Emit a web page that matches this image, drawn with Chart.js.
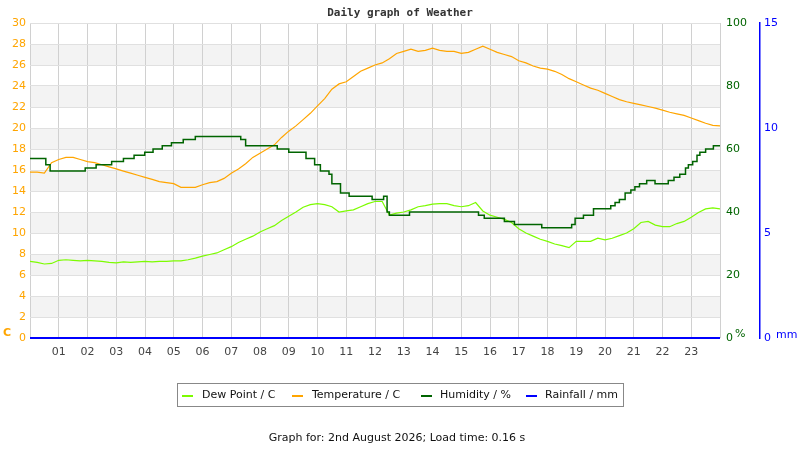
<!DOCTYPE html>
<html>
<head>
<meta charset="utf-8">
<script src="https://cdn.jsdelivr.net/npm/chart.js@4/dist/chart.umd.min.js"></script>
<style>
  html, body { margin: 0; padding: 0; background: #fff; }
  #wrap { position: relative; width: 800px; height: 450px; font-family: "DejaVu Sans", sans-serif; }
  #c { position: absolute; left: 0; top: 0; }
  .abs { position: absolute; white-space: nowrap; }
  #title { left: 0; width: 800px; top: 6px; text-align: center; font: bold 11px "DejaVu Sans Mono", monospace; color: #333; }
  #legend { left: 177px; top: 383px; width: 445px; height: 22px; border: 1px solid #888; }
  .li { position: absolute; top: 4px; font-size: 11px; color: #111; }
  .mk { position: absolute; top: 11px; width: 11px; height: 2px; }
  #footer { left: 0; width: 794px; top: 431px; text-align: center; font-size: 11px; color: #111; }
  .unit { font-size: 11px; }
</style>
</head>
<body>
<div id="wrap">
  <canvas id="c" width="800" height="450"></canvas>
  <div id="title" class="abs">Daily graph of Weather</div>
  <div class="abs unit" style="left:3px;top:326px;color:#FFA500;font-weight:bold;">C</div>
  <div class="abs unit" style="left:735px;top:327px;color:#006400;">%</div>
  <div class="abs unit" style="left:776px;top:328px;color:#0000FF;">mm</div>
  <div id="legend" class="abs">
    <div class="mk" style="left:4px;background:#7CFC00"></div><div class="li" style="left:24px">Dew Point / C</div>
    <div class="mk" style="left:114px;background:#FFA500"></div><div class="li" style="left:134px">Temperature / C</div>
    <div class="mk" style="left:243px;background:#006400"></div><div class="li" style="left:262px">Humidity / %</div>
    <div class="mk" style="left:348px;background:#0000FF"></div><div class="li" style="left:367px">Rainfall / mm</div>
  </div>
  <div id="footer" class="abs">Graph for: 2nd August 2026; Load time: 0.16 s</div>
</div>
<script>
// Hours of the day for 15-minute samples (0 .. 24)
const sampleHours = [0,0.25,0.5,0.75,1,1.25,1.5,1.75,2,2.25,2.5,2.75,3,3.25,3.5,3.75,4,4.25,4.5,4.75,5,5.25,5.5,5.75,6,6.25,6.5,6.75,7,7.25,7.5,7.75,8,8.25,8.5,8.75,9,9.25,9.5,9.75,10,10.25,10.5,10.75,11,11.25,11.5,11.75,12,12.25,12.5,12.75,13,13.25,13.5,13.75,14,14.25,14.5,14.75,15,15.25,15.5,15.75,16,16.25,16.5,16.75,17,17.25,17.5,17.75,18,18.25,18.5,18.75,19,19.25,19.5,19.75,20,20.25,20.5,20.75,21,21.25,21.5,21.75,22,22.25,22.5,22.75,23,23.25,23.5,23.75,24];

const temperatureC = [15.8,15.8,15.7,16.7,17.0,17.2,17.2,17.0,16.8,16.7,16.5,16.3,16.1,15.9,15.7,15.5,15.3,15.1,14.9,14.8,14.7,14.35,14.35,14.35,14.6,14.8,14.9,15.2,15.7,16.1,16.6,17.2,17.6,18.0,18.4,19.1,19.7,20.2,20.8,21.4,22.1,22.8,23.7,24.2,24.4,24.9,25.4,25.7,26.0,26.2,26.6,27.1,27.3,27.5,27.3,27.4,27.6,27.4,27.3,27.3,27.1,27.2,27.5,27.8,27.5,27.2,27.0,26.8,26.4,26.2,25.9,25.7,25.6,25.4,25.1,24.7,24.4,24.1,23.8,23.6,23.3,23.0,22.7,22.5,22.35,22.2,22.05,21.9,21.7,21.5,21.35,21.2,20.95,20.7,20.45,20.25,20.2];

const dewPointC = [7.3,7.2,7.05,7.1,7.4,7.45,7.4,7.35,7.4,7.35,7.3,7.2,7.15,7.25,7.2,7.25,7.3,7.25,7.3,7.3,7.35,7.35,7.45,7.6,7.8,7.95,8.1,8.4,8.7,9.1,9.4,9.7,10.1,10.4,10.7,11.2,11.6,12.0,12.45,12.7,12.8,12.7,12.5,12.0,12.1,12.2,12.5,12.8,13.0,13.0,11.7,11.9,12.0,12.2,12.5,12.6,12.75,12.8,12.8,12.6,12.5,12.6,12.9,12.1,11.7,11.5,11.3,11.0,10.4,10.0,9.7,9.4,9.2,8.95,8.8,8.6,9.2,9.2,9.2,9.5,9.35,9.5,9.75,10.0,10.4,11.0,11.1,10.75,10.6,10.6,10.9,11.1,11.5,11.95,12.3,12.4,12.3];

// Humidity changes (hour at which each new reading starts)
const humidityHours = [0,0.55,0.7,1.92,2.3,2.84,3.25,3.62,3.99,4.28,4.6,4.92,5.33,5.75,7.33,7.5,8.6,9.0,9.6,9.9,10.1,10.4,10.5,10.8,11.1,11.9,12.3,12.42,12.5,13.2,15.6,15.8,16.5,16.85,17.8,18.84,18.96,19.25,19.6,20.2,20.35,20.5,20.7,20.9,21.04,21.2,21.45,21.74,22.2,22.4,22.6,22.8,22.9,23.05,23.2,23.3,23.5,23.77,24];
const humidityPct = [57,55,53,54,55,56,57,58,59,60,61,62,63,64,63,61,60,59,57,55,53,52,49,46,45,44,45,40,39,40,39,38,37,36,35,36,38,39,41,42,43,44,46,47,48,49,50,49,50,51,52,54,55,56,58,59,60,61,61];

const rainHours = [0,24];
const rainMm = [0,0];

const hourLabels = ['01','02','03','04','05','06','07','08','09','10','11','12','13','14','15','16','17','18','19','20','21','22','23'];
const tempTicks = [0,2,4,6,8,10,12,14,16,18,20,22,24,26,28,30];

const pts = (xs, ys) => xs.map((x, i) => ({x: x, y: ys[i]}));

const bandPlugin = {
  id: 'bands',
  beforeDraw(chart) {
    const {ctx, chartArea: a, scales} = chart;
    const y = scales.y;
    ctx.save();
    ctx.fillStyle = '#f3f3f3';
    for (let i = 1; i < tempTicks.length - 1; i += 2) {
      const top = y.getPixelForValue(tempTicks[i + 1]);
      const bot = y.getPixelForValue(tempTicks[i]);
      ctx.fillRect(a.left, top, a.right - a.left, bot - top);
    }
    ctx.restore();
  }
};

const tickFont = {family: 'DejaVu Sans', size: 11};

new Chart(document.getElementById('c'), {
  type: 'line',
  data: {
    datasets: [
      {label: 'Rainfall / mm', data: pts(rainHours, rainMm), yAxisID: 'yR', borderColor: '#0000FF', borderWidth: 2, pointRadius: 0, order: 0, clip: false},
      {label: 'Humidity / %', data: pts(humidityHours, humidityPct), yAxisID: 'yH', borderColor: '#006400', borderWidth: 1.5, pointRadius: 0, stepped: 'before', order: 1},
      {label: 'Temperature / C', data: pts(sampleHours, temperatureC), yAxisID: 'y', borderColor: '#FFA500', borderWidth: 1.2, pointRadius: 0, order: 2},
      {label: 'Dew Point / C', data: pts(sampleHours, dewPointC), yAxisID: 'y', borderColor: '#7CFC00', borderWidth: 1.2, pointRadius: 0, order: 3}
    ]
  },
  options: {
    responsive: false,
    devicePixelRatio: 1,
    animation: false,
    layout: {padding: {top: 23, left: 0, right: 0, bottom: 0}},
    plugins: {legend: {display: false}, title: {display: false}, tooltip: {enabled: false}},
    scales: {
      x: {
        type: 'linear', min: 0, max: 24, position: 'bottom',
        afterFit(s) { s.height = 112; },
        afterBuildTicks(s) { s.ticks = Array.from({length: 25}, (_, i) => ({value: i})); },
        ticks: {
          stepSize: 1, padding: 8, color: '#444', font: tickFont, maxRotation: 0, autoSkip: false,
          callback: (v) => (v >= 1 && v <= 23) ? hourLabels[v - 1] : ''
        },
        grid: {color: '#d0d0d0', drawTicks: false},
        border: {display: false}
      },
      y: {
        position: 'left', min: 0, max: 30,
        afterFit(s) { s.width = 30; },
        afterBuildTicks(s) { s.ticks = tempTicks.map(v => ({value: v})); },
        ticks: {padding: 4, color: '#FFA500', font: tickFont},
        grid: {color: '#e0e0e0', drawTicks: false},
        border: {display: false}
      },
      yH: {
        position: 'right', min: 0, max: 100,
        afterFit(s) { s.width = 40; },
        ticks: {stepSize: 20, padding: 6, color: '#006400', font: tickFont},
        grid: {display: false, drawTicks: false},
        border: {display: false}
      },
      yR: {
        position: 'right', min: 0, max: 15,
        afterFit(s) { s.width = 40; },
        ticks: {stepSize: 5, padding: 4, color: '#0000FF', font: tickFont},
        grid: {display: false, drawTicks: false},
        border: {display: true, color: '#0000FF', width: 1.5}
      }
    }
  },
  plugins: [bandPlugin]
});
</script>
</body>
</html>
